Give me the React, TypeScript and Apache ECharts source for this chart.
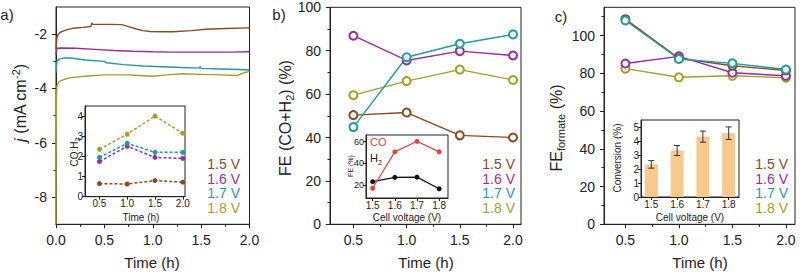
import React, { useEffect, useRef } from "react";
import * as echarts from "echarts";

// ---- shared ----
const voltages = ["1.5 V", "1.6 V", "1.7 V", "1.8 V"];
const colors = ["#8B4A22", "#9C2AA5", "#1A9E9E", "#A3A122"];

// ---- a) chronoamperometry, j (mA cm-2) vs time (h) ----
const tA15 = [0, 0.005, 0.01, 0.02, 0.044, 0.1, 0.18, 0.28, 0.36, 0.37, 0.38, 0.45, 0.55, 0.68, 0.75, 0.83, 0.9, 0.97, 1.1, 1.21, 1.4, 1.55, 1.75, 2.0];
const jA15 = [-2.55, -2.3, -2.12, -2.02, -1.93, -1.85, -1.78, -1.75, -1.72, -1.59, -1.64, -1.64, -1.64, -1.65, -1.72, -1.81, -1.87, -1.9, -1.91, -1.91, -1.87, -1.82, -1.79, -1.77];
const tA16 = [0, 0.01, 0.05, 0.2, 0.4, 0.6, 0.8, 1.0, 1.2, 1.5, 1.8, 2.0];
const jA16 = [-2.75, -2.52, -2.51, -2.52, -2.56, -2.6, -2.63, -2.65, -2.66, -2.66, -2.66, -2.65];
const tA17 = [0, 0.01, 0.03, 0.08, 0.15, 0.3, 0.5, 0.52, 0.7, 0.9, 1.1, 1.3, 1.48, 1.49, 1.5, 1.7, 1.9, 2.0];
const jA17 = [-3.4, -3.0, -2.92, -2.88, -2.88, -2.95, -3.0, -3.05, -3.12, -3.17, -3.2, -3.23, -3.25, -3.19, -3.26, -3.28, -3.3, -3.32];
const tA18 = [0, 0.003, 0.006, 0.01, 0.03, 0.08, 0.15, 0.3, 0.5, 0.75, 0.9, 1.0, 1.15, 1.3, 1.5, 1.7, 1.88, 1.92, 1.96, 2.0];
const jA18 = [-9.0, -5.0, -4.2, -3.9, -3.75, -3.67, -3.6, -3.55, -3.5, -3.5, -3.53, -3.55, -3.5, -3.46, -3.48, -3.5, -3.52, -3.45, -3.4, -3.38];

// sampling times (h)
const sampleTimes = [0.5, 1.0, 1.5, 2.0];

// a) inset: CO:H2 ratio
const ratio15 = [0.65, 0.63, 0.8, 0.72];
const ratio16 = [1.75, 2.5, 1.95, 1.9];
const ratio17 = [1.95, 2.65, 2.2, 2.2];
const ratio18 = [2.35, 3.1, 4.0, 3.15];

// b) FE (CO+H2) (%)
const feGas15 = [50.3, 51.5, 41.0, 40.0];
const feGas16 = [86.9, 75.5, 79.8, 77.8];
const feGas17 = [44.8, 77.0, 83.2, 87.5];
const feGas18 = [59.5, 66.0, 71.3, 66.5];

// b) inset: FE by cell voltage
const cellVoltages = [1.5, 1.6, 1.7, 1.8];
const feCO = [17.0, 50.5, 60.2, 50.5];
const feH2 = [23.0, 27.0, 27.2, 16.5];

// c) FE formate (%)
const feFormate15 = [108.7, 88.0, 84.0, 81.5];
const feFormate16 = [85.2, 89.0, 80.3, 78.7];
const feFormate17 = [108.0, 87.6, 85.3, 82.0];
const feFormate18 = [82.5, 77.9, 78.7, 77.7];

// c) inset: conversion (%)
const conversion = [2.35, 3.35, 4.35, 4.6];
const conversionErr = [0.27, 0.36, 0.4, 0.45];

const FONT = "Liberation Sans, Arial, Helvetica, sans-serif";
const INK = "#222";

const zip = (xs: number[], ys: number[]) => xs.map((x, i) => [x, ys[i]]);

type AxisOpts = {
  fontSize: number;
  margin: number;
  majorLen: number;
  minorLen: number;
  fmt?: (v: number) => string;
};

function axisPair(
  kind: "x" | "y",
  gridIndex: number,
  min: number,
  max: number,
  majors: number[],
  minors: number[],
  o: AxisOpts
) {
  const common: any = {
    type: "value",
    gridIndex,
    min,
    max,
    position: kind === "x" ? "bottom" : "left",
    splitLine: { show: false },
  };
  const label: any = {
    show: true,
    customValues: majors,
    fontSize: o.fontSize,
    margin: o.margin,
    color: INK,
    fontFamily: FONT,
  };
  if (o.fmt) label.formatter = o.fmt;
  const major = {
    ...common,
    axisLine: { show: true, onZero: false, lineStyle: { color: INK, width: 1 } },
    axisTick: { show: true, customValues: majors, length: o.majorLen, lineStyle: { color: INK, width: 1 } },
    axisLabel: label,
  };
  const minor = {
    ...common,
    axisLine: { show: false, onZero: false },
    axisTick: {
      show: minors.length > 0,
      customValues: minors.length > 0 ? minors : majors,
      length: o.minorLen,
      lineStyle: { color: INK, width: 1 },
    },
    axisLabel: { show: false },
  };
  return [major, minor];
}

const fmt1 = (v: number) => v.toFixed(1);

export default function App() {
  const ref = useRef<HTMLDivElement>(null);

  useEffect(() => {
    if (!ref.current) return;
    const chart = echarts.init(ref.current, null, { renderer: "svg" });

    const mainAx: AxisOpts = { fontSize: 14, margin: 9, majorLen: 4, minorLen: 2.5 };
    const insetAx: AxisOpts = { fontSize: 10, margin: 2, majorLen: 3, minorLen: 2 };
    const insetAxSmall: AxisOpts = { fontSize: 9, margin: 2, majorLen: 3, minorLen: 2 };

    const grids = [
      { left: 56, top: 7, width: 193.5, height: 217.3 }, // a
      { left: 85, top: 106, width: 100, height: 90.7 }, // a inset
      { left: 330, top: 7.3, width: 191, height: 217 }, // b
      { left: 366, top: 135, width: 82, height: 63 }, // b inset
      { left: 604, top: 7.3, width: 191, height: 217 }, // c
      { left: 641, top: 120, width: 98, height: 77 }, // c inset
    ].map((g, i) => ({
      ...g,
      show: true,
      borderColor: INK,
      borderWidth: 1,
      backgroundColor: i % 2 === 1 ? "#fff" : "transparent",
    }));

    const xAxis: any[] = [
      ...axisPair("x", 0, 0, 2, [0, 0.5, 1, 1.5, 2], [0.25, 0.75, 1.25, 1.75], { ...mainAx, fmt: fmt1 }),
      ...axisPair("x", 1, 0.24, 2.04, [0.5, 1, 1.5, 2], [], { ...insetAx, fmt: fmt1 }),
      ...axisPair("x", 2, 0.28, 2.075, [0.5, 1, 1.5, 2], [0.75, 1.25, 1.75], { ...mainAx, fmt: fmt1 }),
      ...axisPair("x", 3, 1.47, 1.84, [1.5, 1.6, 1.7, 1.8], [], { ...insetAx, fmt: fmt1 }),
      ...axisPair("x", 4, 0.3, 2.085, [0.5, 1, 1.5, 2], [0.75, 1.25, 1.75], { ...mainAx, fmt: fmt1 }),
      ...axisPair("x", 5, 1.46, 1.84, [1.5, 1.6, 1.7, 1.8], [], { ...insetAx, fmt: fmt1 }),
    ];
    const yAxis: any[] = [
      ...axisPair("y", 0, -9, -1, [-8, -6, -4, -2], [-7, -5, -3], mainAx),
      ...axisPair("y", 1, 0, 4.5, [0, 1, 2, 3, 4], [], insetAx),
      ...axisPair("y", 2, 0, 100, [0, 20, 40, 60, 80, 100], [10, 30, 50, 70, 90], mainAx),
      ...axisPair("y", 3, 8, 66, [20, 40, 60], [], insetAxSmall),
      ...axisPair("y", 4, 0, 115, [0, 20, 40, 60, 80, 100], [10, 30, 50, 70, 90, 110], mainAx),
      ...axisPair("y", 5, 0, 5.55, [0, 1, 2, 3, 4, 5], [], insetAx),
    ];

    const chronoT = [tA15, tA16, tA17, tA18];
    const chronoJ = [jA15, jA16, jA17, jA18];
    const ratios = [ratio15, ratio16, ratio17, ratio18];
    const feGas = [feGas15, feGas16, feGas17, feGas18];
    const feFormate = [feFormate15, feFormate16, feFormate17, feFormate18];

    const series: any[] = [];
    // a) current density traces
    [3, 2, 1, 0].forEach((k) => {
      series.push({
        type: "line",
        xAxisIndex: 0,
        yAxisIndex: 0,
        data: zip(chronoT[k], chronoJ[k]),
        showSymbol: false,
        symbol: "none",
        lineStyle: { color: colors[k], width: 1.4 },
      });
    });
    // a) inset CO:H2
    [0, 1, 2, 3].forEach((k) => {
      series.push({
        type: "line",
        xAxisIndex: 2,
        yAxisIndex: 2,
        data: zip(sampleTimes, ratios[k]),
        symbol: "circle",
        symbolSize: 5,
        itemStyle: { color: colors[k] },
        lineStyle: { color: colors[k], width: 1.5, type: [3, 2] },
      });
    });
    // b) FE (CO+H2)
    [0, 3, 1, 2].forEach((k) => {
      series.push({
        type: "line",
        xAxisIndex: 4,
        yAxisIndex: 4,
        data: zip(sampleTimes, feGas[k]),
        symbol: "emptyCircle",
        symbolSize: 8,
        itemStyle: { color: colors[k], borderColor: colors[k], borderWidth: 2 },
        lineStyle: { color: colors[k], width: 1.4 },
      });
    });
    // b) inset FE vs cell voltage
    series.push({
      type: "line",
      xAxisIndex: 6,
      yAxisIndex: 6,
      data: zip(cellVoltages, feH2),
      symbol: "circle",
      symbolSize: 5,
      itemStyle: { color: "#111" },
      lineStyle: { color: "#111", width: 1.2 },
    });
    series.push({
      type: "line",
      xAxisIndex: 6,
      yAxisIndex: 6,
      data: zip(cellVoltages, feCO),
      symbol: "circle",
      symbolSize: 5,
      itemStyle: { color: "#F23B3B" },
      lineStyle: { color: "#F23B3B", width: 1.2 },
    });
    // c) FE formate
    [3, 1, 0, 2].forEach((k) => {
      series.push({
        type: "line",
        xAxisIndex: 8,
        yAxisIndex: 8,
        data: zip(sampleTimes, feFormate[k]),
        symbol: "emptyCircle",
        symbolSize: 8,
        itemStyle: { color: colors[k], borderColor: colors[k], borderWidth: 2 },
        lineStyle: { color: colors[k], width: 1.4 },
      });
    });
    // c) inset conversion bars + error bars
    series.push({
      type: "bar",
      xAxisIndex: 10,
      yAxisIndex: 10,
      data: zip(cellVoltages, conversion),
      barWidth: 13,
      itemStyle: { color: "#F9C98C" },
    });
    series.push({
      type: "custom",
      xAxisIndex: 10,
      yAxisIndex: 10,
      data: cellVoltages.map((v, i) => [v, conversion[i], conversionErr[i]]),
      z: 5,
      renderItem: (_params: any, api: any) => {
        const x = api.value(0);
        const y = api.value(1);
        const e = api.value(2);
        const top = api.coord([x, y + e]);
        const bot = api.coord([x, y - e]);
        const cap = 3;
        const st = { stroke: "#333", lineWidth: 1 };
        return {
          type: "group",
          children: [
            { type: "line", shape: { x1: top[0], y1: top[1], x2: bot[0], y2: bot[1] }, style: st },
            { type: "line", shape: { x1: top[0] - cap, y1: top[1], x2: top[0] + cap, y2: top[1] }, style: st },
            { type: "line", shape: { x1: bot[0] - cap, y1: bot[1], x2: bot[0] + cap, y2: bot[1] }, style: st },
          ],
        };
      },
    });

    const txt = (x: number, y: number, text: string, extra: any = {}, rot = 0) => ({
      type: "text",
      x,
      y,
      rotation: rot,
      z: 10,
      style: {
        text,
        fontFamily: FONT,
        fontSize: 14,
        fill: INK,
        align: "center",
        verticalAlign: "middle",
        ...extra,
      },
    });

    const titleRich = (size: number) => ({
      n: { fontSize: size, fontFamily: FONT, fill: INK, lineHeight: size + 4 },
      i: { fontSize: size, fontFamily: FONT, fill: INK, fontStyle: "italic", lineHeight: size + 4 },
      s: { fontSize: Math.round(size * 0.68), fontFamily: FONT, fill: INK, lineHeight: Math.round(size * 0.68), verticalAlign: "bottom" },
      p: { fontSize: Math.round(size * 0.68), fontFamily: FONT, fill: INK, lineHeight: Math.round(size * 0.68), verticalAlign: "top" },
    });

    const graphic: any[] = [];
    // panel tags
    graphic.push(txt(7, 14, "a)", { fontSize: 15 }));
    graphic.push(txt(279, 14, "b)", { fontSize: 15 }));
    graphic.push(txt(561, 16, "c)", { fontSize: 15 }));
    // x titles
    graphic.push(txt(152, 262, "Time (h)", { fontSize: 15 }));
    graphic.push(txt(426, 262, "Time (h)", { fontSize: 15 }));
    graphic.push(txt(700, 262, "Time (h)", { fontSize: 15 }));
    // y titles
    graphic.push(txt(20, 103, "{i|j}{n| (mA cm}{p|-2}{n|)}", { rich: titleRich(16) }, Math.PI / 2));
    graphic.push(txt(285, 118, "{n|FE (CO+H}{s|2}{n|) (%)}", { rich: titleRich(16) }, Math.PI / 2));
    graphic.push(txt(556, 128, "{n|FE}{s|formate}{n| (%)}", { rich: titleRich(16) }, Math.PI / 2));
    // inset titles
    graphic.push(txt(141, 217, "Time (h)", { fontSize: 10 }));
    graphic.push(txt(74, 152, "{n|CO:H}{s|2}", { rich: titleRich(10) }, Math.PI / 2));
    graphic.push(txt(407, 217, "Cell voltage (V)", { fontSize: 10 }));
    graphic.push(txt(350, 166, "FE (%)", { fontSize: 7 }, Math.PI / 2));
    graphic.push(txt(370, 142, "CO", { fontSize: 11, fill: "#F23B3B", align: "left" }));
    graphic.push(txt(370, 158, "{n|H}{s|2}", { rich: titleRich(11), align: "left" }));
    graphic.push(txt(690, 217, "Cell voltage (V)", { fontSize: 10 }));
    graphic.push(txt(617, 158, "Conversion (%)", { fontSize: 10 }, Math.PI / 2));
    // voltage keys
    const keyRows = [164, 178.5, 193, 207.5];
    [240, 515, 788].forEach((rx) => {
      voltages.forEach((v, k) => {
        graphic.push(txt(rx, keyRows[k], v, { fontSize: 14, fill: colors[k], align: "right" }));
      });
    });

    chart.setOption({
      animation: false,
      backgroundColor: "#fff",
      grid: grids,
      xAxis,
      yAxis,
      series,
      graphic,
    });

    return () => chart.dispose();
  }, []);

  return (
    <div
      ref={ref}
      style={{ position: "absolute", left: 0, top: 0, width: 800, height: 272 }}
    />
  );
}
